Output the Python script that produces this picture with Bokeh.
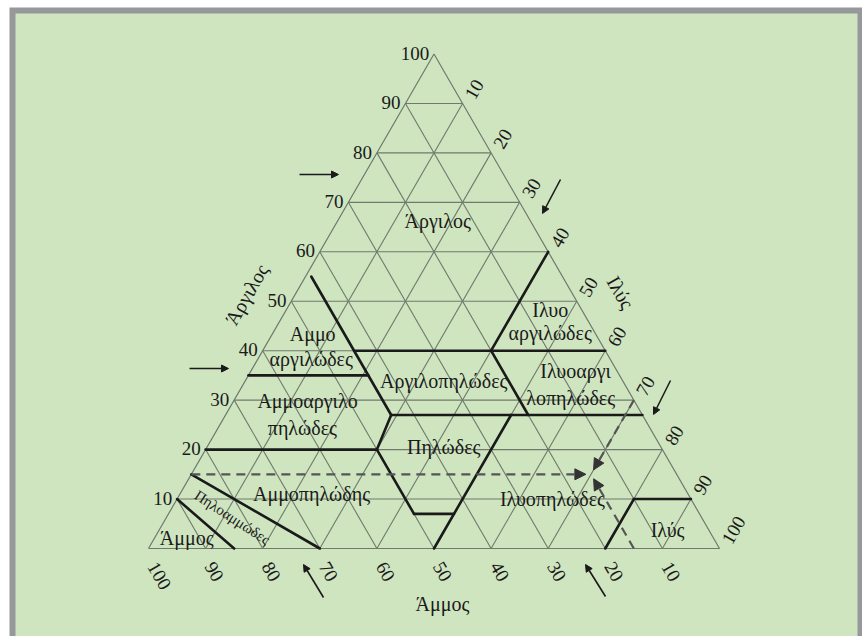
import math
from bokeh.plotting import figure
from bokeh.models import Range1d, Arrow, NormalHead, ColumnDataSource
from bokeh.core.properties import value
from bokeh.embed import file_html
from bokeh.resources import INLINE

# ---------------- data ----------------
TICKS = [10, 20, 30, 40, 50, 60, 70, 80, 90, 100]
GRID_LEVELS = [10, 20, 30, 40, 50, 60, 70, 80, 90]

AXIS_CLAY = "Άργιλος"
AXIS_SILT = "Ιλύς"
AXIS_SAND = "Άμμος"

# texture-class boundaries, each segment given as (sand %, clay %) start -> end
B_SAND0 = [44, 65, 44, 20, 20, 44, 44, 80, 50, 50, 23, 85, 90, 20, 10]
B_CLAY0 = [55, 35, 40, 40, 40, 27, 27, 20, 20, 7, 27, 15, 10, 0, 10]
B_SAND1 = [44, 44, 0, 0, 20, 0, 50, 50, 50, 43, 50, 70, 85, 10, 0]
B_CLAY1 = [27, 35, 40, 60, 27, 27, 20, 20, 7, 7, 0, 0, 0, 10, 10]

# class names (one entry per text line), anchored at (sand %, clay %)
REGION_TEXT = ["Άργιλος", "Αμμο", "αργιλώδες", "Αργιλοπηλώδες", "Ιλυο", "αργιλώδες",
               "Ιλυοαργι", "λοπηλώδες", "Αμμοαργιλο", "πηλώδες", "Πηλώδες",
               "Αμμοπηλώδης", "Ιλυοπηλώδες", "Ιλύς", "Άμμος"]
REGION_SAND = [16.2, 49.6, 52.3, 31.4, 5.5, 7.9, 7.3, 10.8, 57.2, 60.9, 38.0, 65.9, 24.2, 7.2, 92.2]
REGION_CLAY = [66.3, 43.3, 38.4, 33.8, 48.3, 43.5, 35.8, 30.5, 29.9, 24.3, 20.6, 11.1, 10.1, 3.8, 2.2]
SMALL_TEXT = ["Πηλοαμμώδες"]
SMALL_SAND = [82.2]
SMALL_CLAY = [6.3]

# worked example: sand 15 %, clay 15 % (silt 70 %)
EX_SAND = 15
EX_CLAY = 15

# ---------------- geometry / layout ----------------
W, H = 862, 636
K = 5.71            # px per percent unit
X0, Y0 = 148, 548   # px position of the (sand 100, clay 0) corner
S3 = math.sqrt(3) / 2


def tx(sand, clay):
    return 100 - sand - clay / 2


def ty(clay):
    return clay * S3


def px(x, y):
    return (x - X0) / K, (Y0 - y) / K


FONT = value("Liberation Serif")
INK = "#1a1a1a"
GRID = "#6f7a6b"

p = figure(width=W, height=H, output_backend="svg", toolbar_location=None,
           x_range=Range1d(-X0 / K, (W - X0) / K), y_range=Range1d((Y0 - H) / K, Y0 / K),
           min_border=0, background_fill_color="white", border_fill_color="white",
           outline_line_color=None)
p.xaxis.visible = False
p.yaxis.visible = False
p.xgrid.visible = False
p.ygrid.visible = False

# panel frame
fx0, fy0 = px(9, 7)
fx1, fy1 = px(W + 5, H + 5)
p.quad(left=[fx0], right=[fx1], top=[fy0], bottom=[fy1], fill_color="#97989c", line_color=None)
gx0, gy0 = px(15, 13)
gx1, gy1 = px(857, H + 5)
p.quad(left=[gx0], right=[gx1], top=[gy0], bottom=[gy1], fill_color="#cfe5c0", line_color=None)

# grid
gx_a, gy_a, gx_b, gy_b = [], [], [], []
for v in GRID_LEVELS:
    # clay = v
    gx_a.append(tx(100 - v, v)); gy_a.append(ty(v)); gx_b.append(tx(0, v)); gy_b.append(ty(v))
    # sand = v
    gx_a.append(tx(v, 0)); gy_a.append(ty(0)); gx_b.append(tx(v, 100 - v)); gy_b.append(ty(100 - v))
    # silt = v
    gx_a.append(tx(100 - v, 0)); gy_a.append(ty(0)); gx_b.append(tx(0, 100 - v)); gy_b.append(ty(100 - v))
p.segment(gx_a, gy_a, gx_b, gy_b, line_color=GRID, line_width=1.1)
p.line([tx(100, 0), tx(0, 0), tx(0, 100), tx(100, 0)], [ty(0), ty(0), ty(100), ty(0)],
       line_color=GRID, line_width=1.2)

# class boundaries
p.segment([tx(s, c) for s, c in zip(B_SAND0, B_CLAY0)], [ty(c) for c in B_CLAY0],
          [tx(s, c) for s, c in zip(B_SAND1, B_CLAY1)], [ty(c) for c in B_CLAY1],
          line_color=INK, line_width=2.6, line_cap="round", line_join="round")

# tick labels
lab = [str(t) for t in TICKS]
p.text([tx(100 - t, t) - 0.85 for t in TICKS], [ty(t) + 0.15 for t in TICKS], text=lab,
       text_font=FONT, text_font_size="19px", text_color=INK,
       text_align="right", text_baseline="middle")
p.text([tx(0, 100 - t) + 1.2 for t in TICKS], [ty(100 - t) + 1.05 for t in TICKS], text=lab,
       angle=math.pi / 3, text_font=FONT, text_font_size="19px", text_color=INK,
       text_align="left", text_baseline="middle")
p.text([tx(t, 0) + 0.7 for t in TICKS], [ty(0) - 2.6 for t in TICKS], text=lab,
       angle=-math.pi / 3, text_font=FONT, text_font_size="19px", text_color=INK,
       text_align="left", text_baseline="middle")

# axis titles
ax_x, ax_y = px(246, 294)
p.text([ax_x], [ax_y], text=[AXIS_CLAY], angle=math.pi / 3, text_font=FONT,
       text_font_size="20px", text_color=INK, text_align="center", text_baseline="middle")
ax_x, ax_y = px(620, 292)
p.text([ax_x], [ax_y], text=[AXIS_SILT], angle=-math.pi / 3, text_font=FONT,
       text_font_size="20px", text_color=INK, text_align="center", text_baseline="middle")
ax_x, ax_y = px(442, 603)
p.text([ax_x], [ax_y], text=[AXIS_SAND], text_font=FONT,
       text_font_size="20px", text_color=INK, text_align="center", text_baseline="middle")

# region names
p.text([tx(s, c) for s, c in zip(REGION_SAND, REGION_CLAY)], [ty(c) for c in REGION_CLAY],
       text=REGION_TEXT, text_font=FONT, text_font_size="20px", text_color=INK,
       text_align="center", text_baseline="middle")
p.text([tx(s, c) for s, c in zip(SMALL_SAND, SMALL_CLAY)], [ty(c) for c in SMALL_CLAY],
       text=SMALL_TEXT, angle=-math.radians(33), text_font=FONT, text_font_size="15px",
       text_color=INK, text_align="center", text_baseline="middle")

# worked example: dashed guides ending in arrow heads near the point
ptx, pty = tx(EX_SAND, EX_CLAY), ty(EX_CLAY)
starts = [(tx(100 - EX_CLAY, EX_CLAY), ty(EX_CLAY)),
          (tx(0, 100 - (100 - EX_SAND - EX_CLAY)), ty(EX_SAND + EX_CLAY)),
          (tx(EX_SAND, 0), ty(0))]
for sx, sy in starts:
    dx, dy = ptx - sx, pty - sy
    d = math.hypot(dx, dy)
    ex, ey = ptx - dx / d * 0.9, pty - dy / d * 0.9
    p.add_layout(Arrow(x_start=sx, y_start=sy, x_end=ex, y_end=ey,
                       line_color="#555555", line_width=2.2, line_dash="9 6",
                       end=NormalHead(size=11, fill_color="#333333", line_color="#333333")))

# reading-direction arrows
ARROWS_PX = [((299, 174), (338, 174)), ((189, 368), (228, 368)),
             ((560, 179), (542, 213)), ((670, 380), (653, 414)),
             ((323, 597), (303, 564)), ((605, 596), (585, 564))]
for (a, b) in ARROWS_PX:
    xa, ya = px(*a)
    xb, yb = px(*b)
    p.add_layout(Arrow(x_start=xa, y_start=ya, x_end=xb, y_end=yb,
                       line_color=INK, line_width=1.6,
                       end=NormalHead(size=7, fill_color=INK, line_color=INK)))

open("out.html", "w").write(file_html(p, INLINE))
